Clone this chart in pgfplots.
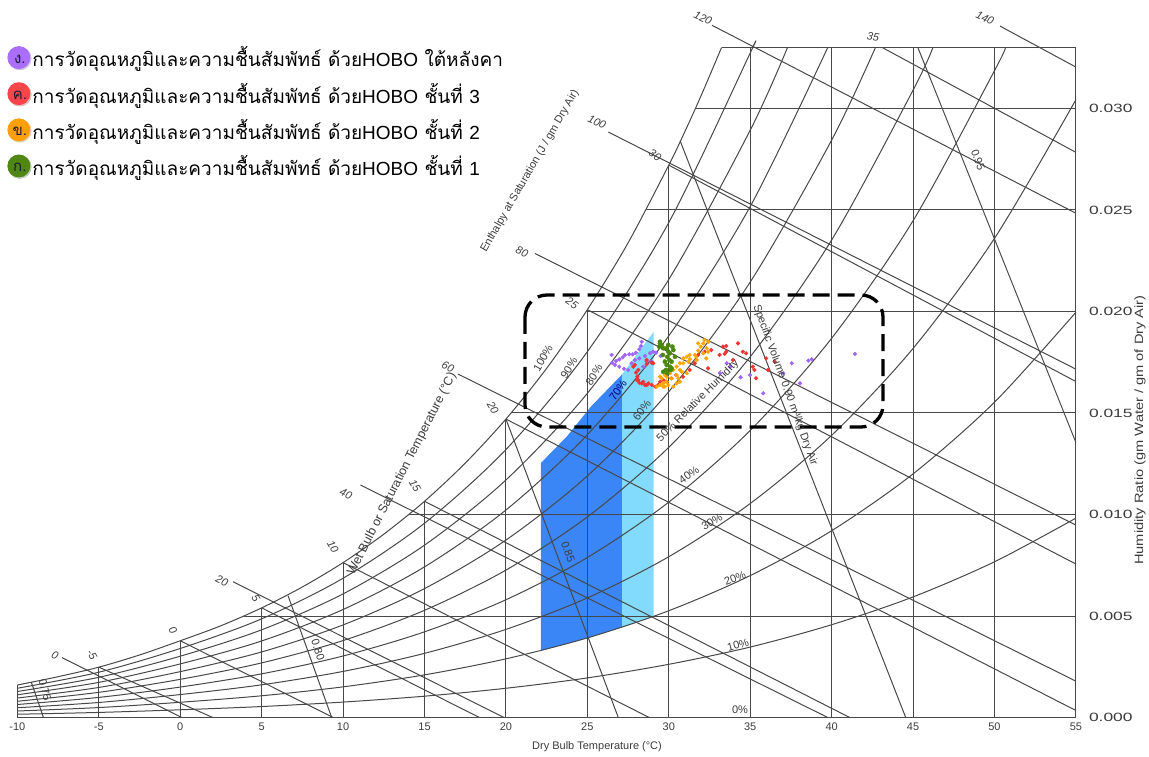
\documentclass[border=0pt]{standalone}
\usepackage{pgfplots}
\pgfplotsset{compat=1.18}
\usepackage{fontspec}
\setmainfont{Liberation Sans}
\newfontfamily\thaifont[Script=Thai]{Loma}
\usetikzlibrary{shadows}
\definecolor{glc}{RGB}{72,72,72}
\definecolor{txc}{RGB}{60,60,60}
\definecolor{dblue}{RGB}{58,134,247}
\definecolor{lblue}{RGB}{130,218,252}
\definecolor{cpur}{RGB}{160,100,255}
\definecolor{cred}{RGB}{240,50,50}
\definecolor{cora}{RGB}{255,165,0}
\definecolor{cgre}{RGB}{75,135,10}
\definecolor{lpur}{RGB}{170,110,250}
\definecolor{lred}{RGB}{250,70,75}
\definecolor{lora}{RGB}{255,160,10}
\definecolor{lgre}{RGB}{80,135,20}
\definecolor{ltx}{RGB}{25,25,60}
\pgfplotsset{gl/.style={forget plot, draw=glc, line width=1pt, mark=none},
  sm/.style={smooth, tension=0.5}}
\tikzset{lb/.style={font=\fontsize{11}{11}\selectfont\itshape, text=txc, inner sep=1pt},
  lr/.style={font=\fontsize{11}{11}\selectfont, text=txc, inner sep=1pt}}
\newcommand{\legimg}[2]{\node[anchor=center, circle, fill=#1, minimum size=23pt, inner sep=0pt,
   drop shadow={opacity=0.35, shadow xshift=1pt, shadow yshift=-1pt}] at (14.5pt,0pt) {};
   \node[anchor=base, text=ltx, inner sep=0pt, font=\thaifont\fontsize{15}{15}\selectfont] at (15.5pt,-6pt) {#2};}
\begin{document}
\begin{tikzpicture}[x=1pt,y=1pt]
\path[use as bounding box] (0,0) rectangle (1149,756);
\begin{axis}[at={(17.4pt,38.5pt)}, anchor=south west, scale only axis,
  width=1058.5pt, height=669.9pt,
  xmin=-10, xmax=55, ymin=0, ymax=0.033, clip=false,
  axis line style={draw=none}, tick style={draw=none},
  scaled y ticks=false, scaled x ticks=false,
  xtick={-10,-5,0,5,10,15,20,25,30,35,40,45,50,55},
  xticklabels={-10,-5,0,5,10,15,20,25,30,35,40,45,50,55},
  ytick={0,0.005,0.01,0.015,0.02,0.025,0.03},
  yticklabels={0.000,0.005,0.010,0.015,0.020,0.025,0.030},
  yticklabel pos=right,
  xticklabel style={font=\fontsize{11}{11}\selectfont, text=txc, yshift=-2pt},
  yticklabel style={font=\fontsize{12}{12}\selectfont, text=txc, xshift=8pt, xscale=1.45},
  legend style={at={(-0.0125,1.0075)}, anchor=north west, draw=none, fill=none,
    font=\thaifont\fontsize{19}{19}\selectfont, row sep=10.5pt,
    /tikz/every even column/.append style={column sep=18pt}},
  legend cell align=left,
]
% comfort zones
\addplot[forget plot, fill=dblue, draw=none] coordinates {(22.15,0.00329) (25,0.00392) (27.13,0.00445) (27.13,0.01690) (25.2,0.01530) (23.75,0.01385) (22.15,0.01254)} -- cycle;
\addplot[forget plot, fill=lblue, draw=none] coordinates {(27.13,0.00445) (29.07,0.00498) (29.07,0.01900) (28.1,0.01795) (27.13,0.01690)} -- cycle;
% saturation and RH curves
\addplot[gl, sm] coordinates {(-10,0.00160) (-7.5,0.00201) (-5,0.00248) (-2.5,0.00308) (0,0.00378) (2.5,0.00452) (5,0.00540) (7.5,0.00643) (10,0.00763) (12.5,0.00903) (15,0.01065) (17.5,0.01253) (20,0.01470) (22.5,0.01720) (25,0.02009) (27.5,0.02338) (30,0.02721) (31,0.02888) (32,0.03066) (33.24,0.0330)};
\addplot[gl, sm] coordinates {(-10,0.00144) (-5,0.00223) (0,0.00340) (5,0.00486) (10,0.00686) (15,0.00957) (20,0.01320) (25,0.01802) (30,0.02438) (35,0.03273) (35.14,0.0330)};
\addplot[gl, sm] coordinates {(-10,0.00128) (-5,0.00198) (0,0.00302) (5,0.00432) (10,0.00609) (15,0.00849) (20,0.01170) (25,0.01597) (30,0.02158) (35,0.02893) (37.29,0.0330)};
\addplot[gl, sm] coordinates {(-10,0.00112) (-5,0.00173) (0,0.00264) (5,0.00377) (10,0.00532) (15,0.00742) (20,0.01022) (25,0.01393) (30,0.01880) (35,0.02517) (39.76,0.0330)};
\addplot[gl, sm] coordinates {(-10,0.00096) (-5,0.00148) (0,0.00226) (5,0.00323) (10,0.00456) (15,0.00635) (20,0.00874) (25,0.01190) (30,0.01605) (35,0.02145) (40,0.02844) (42.69,0.0330)};
\addplot[gl, sm] coordinates {(-10,0.00080) (-5,0.00124) (0,0.00188) (5,0.00269) (10,0.00379) (15,0.00528) (20,0.00726) (25,0.00988) (30,0.01331) (35,0.01777) (40,0.02352) (45,0.03090) (46.22,0.0330)};
\addplot[gl, sm] coordinates {(-10,0.00064) (-5,0.00099) (0,0.00150) (5,0.00215) (10,0.00303) (15,0.00422) (20,0.00580) (25,0.00788) (30,0.01061) (35,0.01414) (40,0.01868) (45,0.02447) (50,0.03186) (50.67,0.0330)};
\addplot[gl, sm] coordinates {(-10,0.00048) (-5,0.00074) (0,0.00113) (5,0.00161) (10,0.00227) (15,0.00316) (20,0.00434) (25,0.00589) (30,0.00792) (35,0.01054) (40,0.01390) (45,0.01818) (50,0.02360) (55,0.03043)};
\addplot[gl, sm] coordinates {(-10,0.00032) (-5,0.00049) (0,0.00075) (5,0.00107) (10,0.00151) (15,0.00210) (20,0.00289) (25,0.00392) (30,0.00526) (35,0.00699) (40,0.00920) (45,0.01200) (50,0.01553) (55,0.01996)};
\addplot[gl, sm] coordinates {(-10,0.00016) (-5,0.00025) (0,0.00038) (5,0.00054) (10,0.00076) (15,0.00105) (20,0.00144) (25,0.00195) (30,0.00262) (35,0.00347) (40,0.00457) (45,0.00594) (50,0.00767) (55,0.00982)};
% dry bulb verticals
\addplot[gl] coordinates {(-10,0) (-10,0.00160)};
\addplot[gl] coordinates {(-5,0) (-5,0.00248)};
\addplot[gl] coordinates {(0,0) (0,0.00378)};
\addplot[gl] coordinates {(5,0) (5,0.00540)};
\addplot[gl] coordinates {(10,0) (10,0.00763)};
\addplot[gl] coordinates {(15,0) (15,0.01065)};
\addplot[gl] coordinates {(20,0) (20,0.01470)};
\addplot[gl] coordinates {(25,0) (25,0.02009)};
\addplot[gl] coordinates {(30,0) (30,0.02721)};
\addplot[gl] coordinates {(35,0) (35,0.033)};
\addplot[gl] coordinates {(40,0) (40,0.033)};
\addplot[gl] coordinates {(45,0) (45,0.033)};
\addplot[gl] coordinates {(50,0) (50,0.033)};
\addplot[gl] coordinates {(55,0) (55,0.033)};
% humidity ratio horizontals
\addplot[gl] coordinates {(-10,0) (55,0)};
\addplot[gl] coordinates {(3.9,0.005) (55,0.005)};
\addplot[gl] coordinates {(14.04,0.010) (55,0.010)};
\addplot[gl] coordinates {(20.31,0.015) (55,0.015)};
\addplot[gl] coordinates {(24.93,0.020) (55,0.020)};
\addplot[gl] coordinates {(28.59,0.025) (55,0.025)};
\addplot[gl] coordinates {(31.63,0.030) (55,0.030)};
\addplot[gl] coordinates {(33.24,0.033) (55,0.033)};
% wet bulb lines
\addplot[gl] coordinates {(-5,0.00248) (2.0,0)};
\addplot[gl] coordinates {(0,0.00378) (9.39,0)};
\addplot[gl] coordinates {(5,0.00540) (18.37,0)};
\addplot[gl] coordinates {(10,0.00763) (28.80,0)};
\addplot[gl] coordinates {(15,0.01065) (41.11,0)};
\addplot[gl] coordinates {(20,0.01470) (55,0.000345)};
\addplot[gl] coordinates {(25,0.02009) (55,0.00756)};
\addplot[gl] coordinates {(30,0.02721) (55,0.01655)};
\addplot[gl] coordinates {(43.12,0.033) (55,0.02784)};
% enthalpy lines
\addplot[gl] coordinates {(-7.26,0.00295) (0.1,0)};
\addplot[gl] coordinates {(3.24,0.00669) (19.88,0)};
\addplot[gl] coordinates {(11.07,0.01145) (39.76,0)};
\addplot[gl] coordinates {(17.05,0.01692) (55,0.00179)};
\addplot[gl] coordinates {(21.78,0.02286) (55,0.00948)};
\addplot[gl] coordinates {(26.29,0.02884) (55,0.01716)};
\addplot[gl] coordinates {(32.65,0.03410) (55,0.02484)};
\addplot[gl] coordinates {(50.34,0.03406) (55,0.03204)};
% specific volume lines
\addplot[gl] coordinates {(-9.15,0.00175) (-8.4,0)};
\addplot[gl] coordinates {(6.62,0.00600) (9.3,0)};
\addplot[gl] coordinates {(20.0,0.01470) (26.9,0)};
\addplot[gl] coordinates {(30.7,0.02840) (44.55,0)};
\addplot[gl] coordinates {(45.3,0.0330) (55,0.01355)};
% measurements
\addplot[only marks, mark=*, mark size=1.9pt, color=cpur,
  legend image code/.code={\legimg{lpur}{ง.}}] coordinates {
(28.34,0.01851) (28.29,0.01830) (28.19,0.01814) (27.98,0.01797) (27.78,0.01789) (27.57,0.01789)
(27.31,0.01786) (27.17,0.01774) (26.96,0.01764) (26.76,0.01756) (26.53,0.01747) (26.49,0.01786)
(26.70,0.01737) (26.96,0.01728) (27.25,0.01718) (27.51,0.01712) (27.72,0.01745) (27.92,0.01761)
(28.19,0.01769) (28.54,0.01781) (28.85,0.01794) (29.21,0.01797) (29.50,0.01781) (28.64,0.01753)
(28.43,0.01728) (29.04,0.01802) (28.94,0.01753)
(33.14,0.01696) (33.56,0.01745) (33.76,0.01728) (34.41,0.01676) (34.99,0.01687) (35.80,0.01597)
(37.03,0.01696) (37.55,0.01745) (38.06,0.01646) (38.57,0.01758) (38.78,0.01765) (41.43,0.01791)};
\addlegendentry{การวัดอุณหภูมิและความชื้นสัมพัทธ์ ด้วย{\fontspec{Liberation Sans}HOBO} ใต้หลังคา}
\addplot[only marks, mark=*, mark size=1.9pt, color=cred,
  legend image code/.code={\legimg{lred}{ค.}}] coordinates {
(27.82,0.01728) (27.99,0.01699) (28.07,0.01679) (28.13,0.01663) (28.19,0.01649) (28.34,0.01646)
(28.54,0.01638) (28.75,0.01646) (28.95,0.01638) (29.16,0.01630) (29.36,0.01638) (28.64,0.01741)
(28.95,0.01748) (27.92,0.01737) (28.13,0.01712) (28.03,0.01663) (28.43,0.01654) (28.64,0.01638)
(29.46,0.01654) (29.66,0.01663) (29.04,0.01745) (28.64,0.01761) (29.85,0.01654) (30.16,0.01671)
(30.46,0.01687) (30.87,0.01679) (31.28,0.01712) (31.59,0.01745) (31.80,0.01786) (32.20,0.01802)
(32.41,0.01720) (32.61,0.01810) (33.12,0.01786) (33.33,0.01827) (33.53,0.01802) (33.94,0.01761)
(34.25,0.01843) (34.55,0.01802) (34.75,0.01794) (35.16,0.01728) (35.26,0.01712) (35.98,0.01769)
(36.09,0.01712) (36.50,0.01753) (35.36,0.01671) (33.53,0.01830) (33.43,0.01791)};
\addlegendentry{การวัดอุณหภูมิและความชื้นสัมพัทธ์ ด้วย{\fontspec{Liberation Sans}HOBO} ชั้นที่ {\fontspec{Liberation Sans}3}}
\addplot[only marks, mark=*, mark size=1.9pt, color=cora,
  legend image code/.code={\legimg{lora}{ข.}}] coordinates {
(29.46,0.01638) (29.66,0.01646) (29.87,0.01654) (29.56,0.01671) (29.76,0.01687) (30.07,0.01696)
(30.28,0.01712) (30.48,0.01728) (30.68,0.01712) (30.48,0.01687) (30.17,0.01671) (29.97,0.01638)
(30.28,0.01630) (29.76,0.01630) (30.68,0.01745) (30.89,0.01769) (31.10,0.01777) (31.30,0.01765)
(31.61,0.01786) (31.81,0.01807) (31.96,0.01827) (32.12,0.01843) (32.43,0.01851) (32.33,0.01819)
(31.71,0.01761) (30.68,0.01654) (31.10,0.01696) (31.80,0.01843) (32.20,0.01860) (32.30,0.01769)
(31.69,0.01777) (31.28,0.01786) (30.89,0.01745) (30.79,0.01703) (30.58,0.01671) (30.48,0.01646)
(29.66,0.01630) (29.26,0.01630) (29.46,0.01679) (29.87,0.01679) (31.20,0.01753) (32.12,0.01794)
(32.41,0.01802)};
\addlegendentry{การวัดอุณหภูมิและความชื้นสัมพัทธ์ ด้วย{\fontspec{Liberation Sans}HOBO} ชั้นที่ {\fontspec{Liberation Sans}2}}
\addplot[only marks, mark=*, mark size=2.1pt, color=cgre,
  legend image code/.code={\legimg{lgre}{ก.}}] coordinates {
(29.46,0.01851) (29.56,0.01835) (29.41,0.01827) (29.66,0.01819) (29.87,0.01819) (29.97,0.01802)
(30.07,0.01794) (29.91,0.01777) (30.03,0.01761) (29.76,0.01753) (29.87,0.01737) (30.07,0.01728)
(29.83,0.01712) (29.66,0.01703) (30.17,0.01753) (30.38,0.01777) (30.28,0.01810) (29.63,0.01786)
(29.97,0.01835) (29.46,0.01843) (30.12,0.01712) (29.91,0.01696) (30.22,0.01827) (30.17,0.01720)};
\addlegendentry{การวัดอุณหภูมิและความชื้นสัมพัทธ์ ด้วย{\fontspec{Liberation Sans}HOBO} ชั้นที่ {\fontspec{Liberation Sans}1}}
\end{axis}
% dashed highlight box
\draw[line width=3.3pt, dash pattern=on 17pt off 8pt, rounded corners=22pt] (525,461) rectangle (883,329);
% enthalpy labels
\node[lb, rotate=-25] at (55,101) {0};
\node[lb, rotate=-25] at (222,175) {20};
\node[lb, rotate=-25] at (346,262) {40};
\node[lb, rotate=-25] at (448,389) {60};
\node[lb, rotate=-25] at (522,504) {80};
\node[lb, rotate=-25] at (597,634) {100};
\node[lb, rotate=-25] at (703,738) {120};
\node[lb, rotate=-25] at (985,738) {140};
% wet bulb labels
\node[lb, rotate=-60] at (92,101) {-5};
\node[lb, rotate=-60] at (173,126) {0};
\node[lb, rotate=-60] at (256,158) {5};
\node[lb, rotate=-60] at (333,209) {10};
\node[lb, rotate=-60] at (415,270) {15};
\node[lb, rotate=-60] at (493,348) {20};
\node[lb, rotate=-35] at (572,453) {25};
\node[lb, rotate=-35] at (655,601) {30};
\node[lb, rotate=-10] at (873,719) {35};
% RH labels
\node[lr, rotate=60] at (543,398) {100\%};
\node[lr, rotate=58] at (569,388) {90\%};
\node[lr, rotate=58] at (594,381) {80\%};
\node[lr, rotate=55, text=blue!45!black] at (618,366) {70\%};
\node[lr, rotate=52] at (642,346) {60\%};
\node[lr, rotate=45] at (698,355) {50\% Relative Humidity};
\node[lr, rotate=35] at (689,281) {40\%};
\node[lr, rotate=30] at (712,234) {30\%};
\node[lr, rotate=22] at (735,178) {20\%};
\node[lr, rotate=15] at (738,111) {10\%};
\node[lr] at (740,46) {0\%};
% volume labels
\node[lr, rotate=-75] at (45,66) {0.75};
\node[lr, rotate=-72] at (318,106) {0.80};
\node[lr, rotate=-70] at (568,204) {0.85};
\node[lr, rotate=-70] at (785,371) {Specific Volume 0.90 m³/kg Dry Air};
\node[lr, rotate=-70] at (978,596) {0.95};
% titles
\node[lr, rotate=60] at (530,585) {Enthalpy at Saturation (J / gm Dry Air)};
\node[lr, rotate=63, font=\fontsize{12.5}{12.5}\selectfont] at (402,282) {Wet Bulb or Saturation Temperature (°C)};
\node[lr] at (597,9) {Dry Bulb Temperature (°C)};
\node[lr, font=\fontsize{12}{12}\selectfont, yscale=1.22, rotate=90] at (1140,326) {Humidity Ratio (gm Water / gm of Dry Air)};
\end{tikzpicture}
\end{document}
